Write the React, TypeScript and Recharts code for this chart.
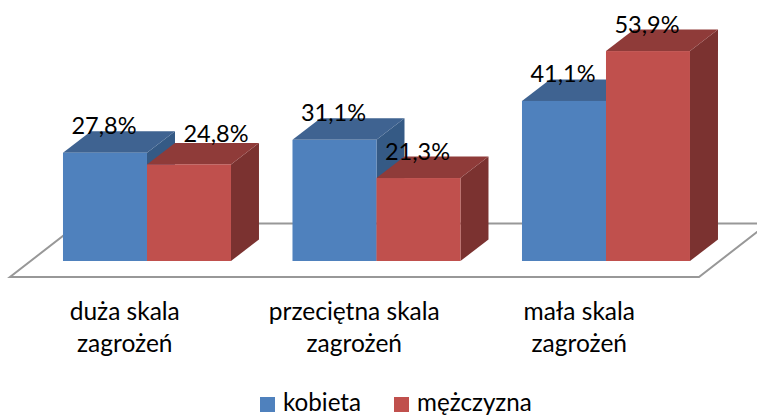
import { BarChart, Bar, XAxis, YAxis, LabelList, Legend } from 'recharts';

const categories = ['duża skala\nzagrożeń', 'przeciętna skala\nzagrożeń', 'mała skala\nzagrożeń'];
const kobieta = [27.8, 31.1, 41.1];
const mezczyzna = [24.8, 21.3, 53.9];

const data = categories.map((name, i) => ({
  name,
  kobieta: kobieta[i],
  mezczyzna: mezczyzna[i]
}));

const FONT = 'Lato, Carlito, sans-serif';
const DEPTH_X = 28;
const DEPTH_Y = 21.5;

const BLUE = { front: '#4f81bd', top: '#3f6391', side: '#355a85' };
const RED = { front: '#c0504d', top: '#8f3b39', side: '#7b3230' };

// the tick text is not centred under the groups in the original
const tickShift = [-22, -22, -26.5];

function Box3D({ x, y, width, height, colors }: any) {
  const r = x + width;
  const b = y + height;
  return (
    <g>
      <path
        d={`M${r} ${y}L${r + DEPTH_X} ${y - DEPTH_Y}L${r + DEPTH_X} ${b - DEPTH_Y}L${r} ${b}Z`}
        fill={colors.side}
      />
      <path
        d={`M${x} ${y}L${x + DEPTH_X} ${y - DEPTH_Y}L${r + DEPTH_X} ${y - DEPTH_Y}L${r} ${y}Z`}
        fill={colors.top}
      />
      <rect x={x} y={y} width={width} height={height} fill={colors.front} />
    </g>
  );
}

function Floor() {
  return (
    <path
      d="M768 223.5L79 223.5L10 277L699 277L768 223.5Z"
      fill="#fff"
      stroke="#989898"
      strokeWidth={2}
    />
  );
}

function CategoryTick({ x, y, payload, index }: any) {
  const lines = String(payload.value).split('\n');
  return (
    <text x={x + tickShift[index]} y={y} textAnchor="middle" fontFamily={FONT} fontSize={24.5} fill="#000">
      {lines.map((line, i) => (
        <tspan key={line} x={x + tickShift[index]} dy={i === 0 ? 0 : 32}>
          {line}
        </tspan>
      ))}
    </text>
  );
}

function ValueLabel({ x, y, width, value }: any) {
  // 24,8% sits off to the right of its bar in the original
  const off = value === 24.8;
  return (
    <text
      x={x + width / 2 + (off ? 27 : -1)}
      y={y - (off ? 22 : 18.5)}
      textAnchor="middle"
      fontFamily={FONT}
      fontSize={23.5}
      fill="#000"
    >
      {`${String(value).replace('.', ',')}%`}
    </text>
  );
}

function LegendContent({ payload }: any) {
  return (
    <div style={{ display: 'flex', alignItems: 'center', height: 26, fontFamily: FONT, fontSize: 24.2, color: '#000' }}>
      {payload.map((item: any, i: number) => (
        <div key={item.value} style={{ display: 'flex', alignItems: 'center', marginLeft: i === 0 ? 0 : 33 }}>
          <span style={{ width: 15, height: 15, background: item.color, marginRight: 8 }} />
          <span style={{ position: 'relative', top: -3.5 }}>{item.value}</span>
        </div>
      ))}
    </div>
  );
}

export default function App() {
  return (
    <div style={{ position: 'absolute', left: 0, top: 0, width: 757, height: 415, overflow: 'hidden' }}>
      <BarChart
        width={757}
        height={415}
        data={data}
        barCategoryGap="13.5%"
        barGap={0}
        margin={{ top: 27.3, right: 36.5, bottom: 0, left: 32 }}
      >
        <Floor />
        <XAxis
          dataKey="name"
          axisLine={false}
          tickLine={false}
          interval={0}
          height={128}
          tick={<CategoryTick />}
          tickMargin={53}
        />
        <YAxis hide domain={[0, 60]} />
        <Legend
          content={<LegendContent />}
          wrapperStyle={{ left: 260, top: 391.5, width: 'auto' }}
        />
        <Bar
          dataKey="kobieta"
          name="kobieta"
          fill={BLUE.front}
          isAnimationActive={false}
          shape={(props: any) => <Box3D {...props} colors={BLUE} />}
        >
          <LabelList dataKey="kobieta" content={<ValueLabel />} />
        </Bar>
        <Bar
          dataKey="mezczyzna"
          name="mężczyzna"
          fill={RED.front}
          isAnimationActive={false}
          shape={(props: any) => <Box3D {...props} colors={RED} />}
        >
          <LabelList dataKey="mezczyzna" content={<ValueLabel />} />
        </Bar>
      </BarChart>
    </div>
  );
}
